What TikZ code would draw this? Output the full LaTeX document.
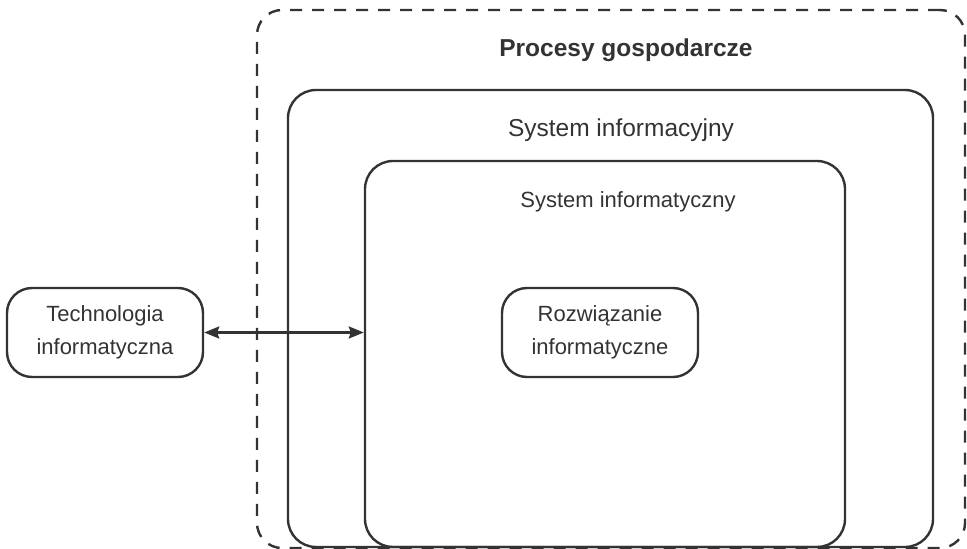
\documentclass[tikz,border=0pt]{standalone}
\usepackage{fontspec}
\setmainfont{Liberation Sans}
\usetikzlibrary{arrows.meta}
\definecolor{ink}{HTML}{333333}
\begin{document}
\begin{tikzpicture}[x=1pt,y=-1pt,
  line width=2.4pt,
  box/.style={draw=ink, rounded corners=28pt, inner sep=0pt},
  smallbox/.style={draw=ink, rounded corners=25pt, inner sep=0pt, align=center,
    text=ink, font=\fontsize{22}{33}\selectfont, minimum width=196pt, minimum height=89pt},
  lbl/.style={text=ink, anchor=base, inner sep=0pt}
]
\useasboundingbox (0,0) rectangle (967,549);
\node[box, dash pattern=on 12pt off 10pt, rounded corners=25pt, minimum width=708pt, minimum height=538pt] (proc) at (611,279) {};
\node[box, minimum width=645pt, minimum height=457pt] (sinf) at (610.5,318.5) {};
\node[box, minimum width=480pt, minimum height=386pt] (smat) at (605,354) {};
\node[smallbox] (tech) at (105,332.5) {Technologia\\informatyczna};
\node[smallbox] (roz) at (600,332.5) {Rozwiązanie\\informatyczne};
\node[lbl, font=\bfseries\fontsize{24.5}{30}\selectfont] (tproc) at (626,56) {Procesy gospodarcze};
\node[lbl, font=\fontsize{24.5}{30}\selectfont] (tsinf) at (621,136.5) {System informacyjny};
\node[lbl, font=\fontsize{22}{30}\selectfont] (tsmat) at (628,207.5) {System informatyczny};
\draw[ink, {Stealth[length=15pt,width=12pt,inset=2pt]}-{Stealth[length=15pt,width=12pt,inset=2pt]}] (tech.east) -- (tech.east -| smat.west);
\end{tikzpicture}
\end{document}
